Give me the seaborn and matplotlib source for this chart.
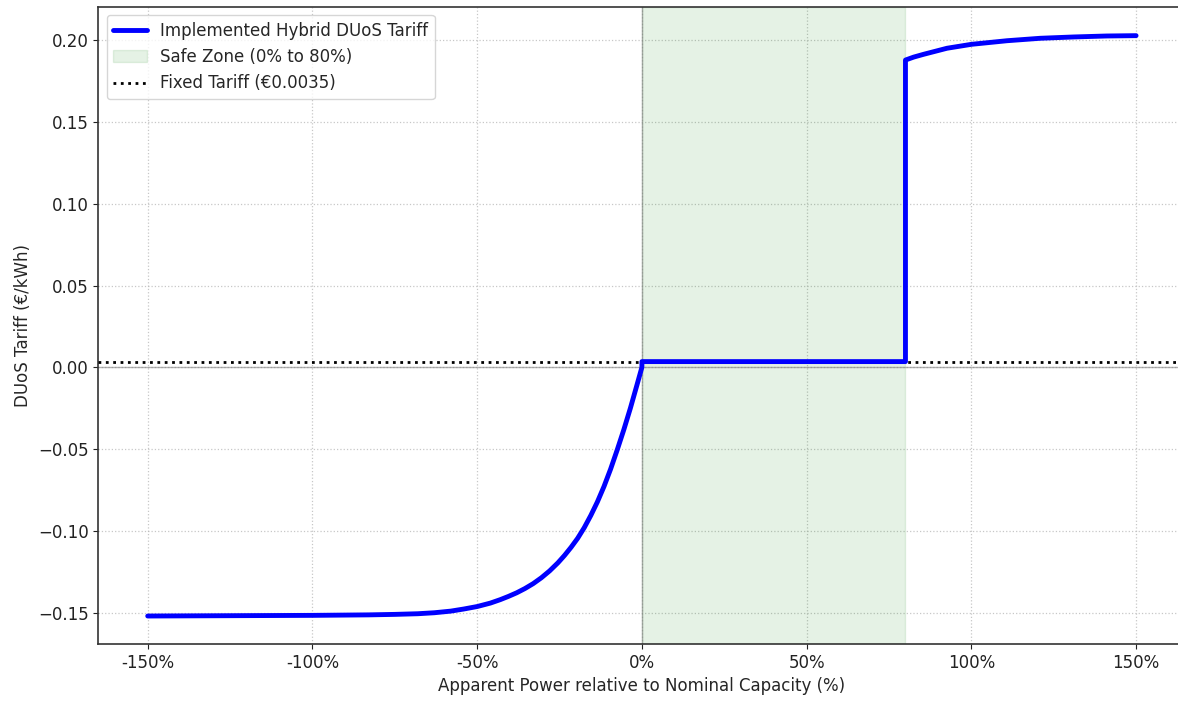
import matplotlib
matplotlib.use("Agg")
import matplotlib.pyplot as plt
import matplotlib.ticker as mticker
import seaborn as sns

# Apparent power as % of nominal capacity, and the resulting DUoS tariff (EUR/kWh)
power_pct = [-150, -125, -100, -83, -75, -68, -63, -58, -54, -50, -46, -43, -40.5,
             -38, -35.5, -33, -30.5, -28, -25.5, -23.5, -21.5, -19.5, -17.5, -15.5,
             -13.5, -11.5, -9.5, -7.5, -5.5, -3.5, -1.5, 0, 0,
             80, 80, 82.5, 85.5, 92.6, 100, 110.8, 120.9, 131, 141.1, 150]
tariff = [-0.1520, -0.1518, -0.1516, -0.1513, -0.1510, -0.1506, -0.1500, -0.1490,
          -0.1477, -0.1462, -0.1441, -0.1420, -0.1400, -0.1378, -0.1352, -0.1322,
          -0.1286, -0.1244, -0.1195, -0.1150, -0.1100, -0.1045, -0.0980, -0.0905,
          -0.0822, -0.0728, -0.0622, -0.0505, -0.0382, -0.0250, -0.0108, 0.0, 0.0035,
          0.0035, 0.1878, 0.1896, 0.1913, 0.1950, 0.1974, 0.1996, 0.2011, 0.2019,
          0.2025, 0.2027]

fixed_tariff = 0.0035
safe_zone = (0, 80)
x_ticks = [-150, -100, -50, 0, 50, 100, 150]
y_ticks = [-0.15, -0.10, -0.05, 0.00, 0.05, 0.10, 0.15, 0.20]

sns.set_style("ticks")
plt.rcParams["font.family"] = ["DejaVu Sans"]
plt.rcParams["font.size"] = 12

fig = plt.figure(figsize=(11.78, 7.04), dpi=100)
ax = fig.add_axes([98.3 / 1178, 60 / 704, 1087.2 / 1178, 637.3 / 704])

sns.lineplot(x=power_pct, y=tariff, sort=False, estimator=None, color="blue",
             linewidth=3.5, ax=ax, label="Implemented Hybrid DUoS Tariff", zorder=4)
ax.axvspan(*safe_zone, color="green", alpha=0.1, label="Safe Zone (0% to 80%)", zorder=1)
ax.axhline(fixed_tariff, color="black", linestyle=":", linewidth=2,
           label="Fixed Tariff (\u20ac0.0035)", zorder=3)
ax.axhline(0, color="gray", linewidth=1, alpha=0.6, zorder=2)
ax.axvline(0, color="gray", linewidth=1, alpha=0.6, zorder=2)

ax.set_xlim(-165, 165)
ax.set_ylim(-0.1691, 0.2204)
ax.set_xticks(x_ticks)
ax.set_yticks(y_ticks)
ax.xaxis.set_major_formatter(mticker.FuncFormatter(lambda v, p: f"{v:.0f}%"))
ax.grid(True, linestyle=":", color="#b0b0b0", alpha=0.7, linewidth=0.9)
ax.tick_params(labelsize=12, colors="#222222")
for s in ax.spines.values():
    s.set_color("#333333")
    s.set_linewidth(1.2)

ax.set_xlabel("Apparent Power relative to Nominal Capacity (%)", fontsize=12)
ax.set_ylabel("DUoS Tariff (\u20ac/kWh)", fontsize=12)
ax.legend(loc="upper left", fontsize=12, frameon=True)

fig.savefig("out.png", dpi=100)
